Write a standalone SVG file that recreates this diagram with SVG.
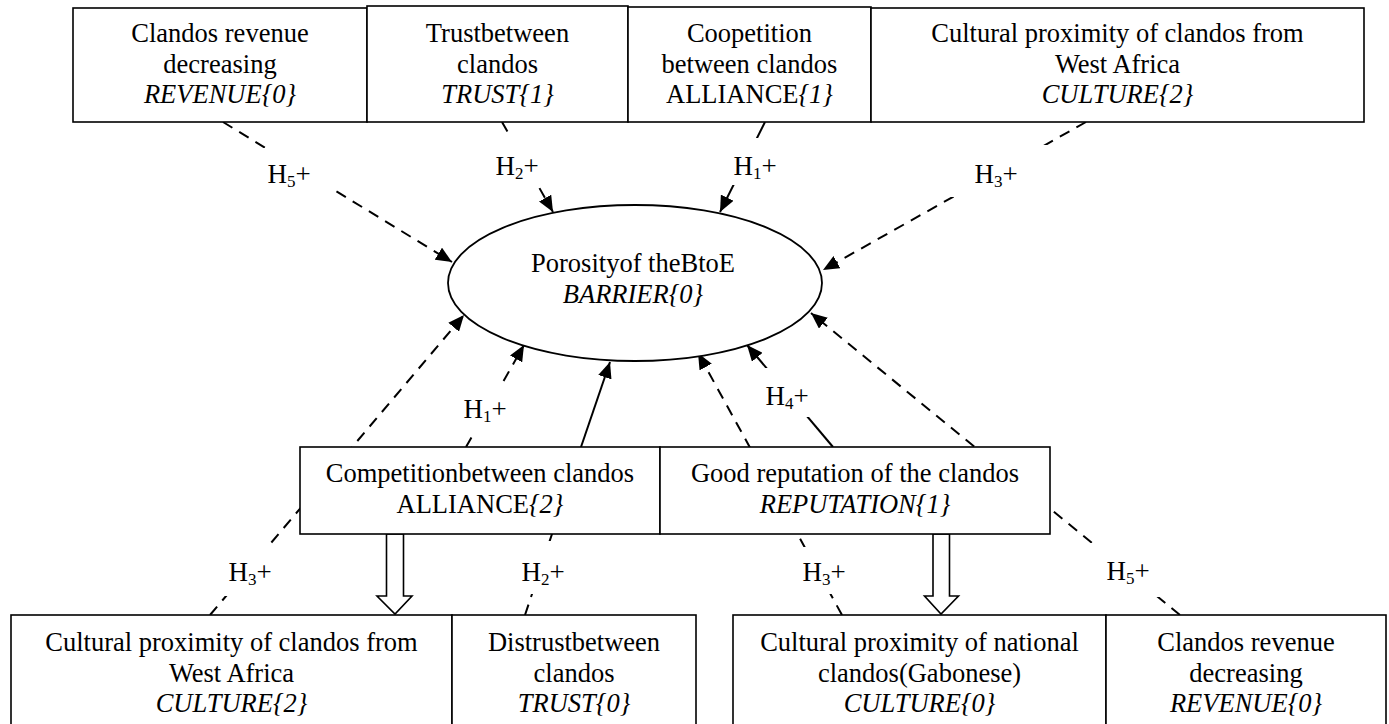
<svg xmlns="http://www.w3.org/2000/svg" width="1389" height="724" viewBox="0 0 1389 724">
<style>
  .box { fill: #fff; stroke: #000; stroke-width: 1.6; }
  .t { font-family: "Liberation Serif", "Times New Roman", serif; font-size: 26.5px; fill: #000; text-anchor: middle; }
  .i { font-style: italic; }
  .dash { stroke: #000; stroke-width: 2; stroke-dasharray: 11 8; fill: none; }
  .solid { stroke: #000; stroke-width: 2; fill: none; }
  .lblbg { fill: #fff; stroke: none; }
  .lbl { font-family: "Liberation Serif", "Times New Roman", serif; font-size: 27px; fill: #000; text-anchor: middle; }
  .sub { font-size: 17px; }
  .hollow { fill: #fff; stroke: #000; stroke-width: 1.6; }
</style>
<defs>
  <marker id="ah" markerUnits="userSpaceOnUse" markerWidth="17" markerHeight="14" refX="16" refY="7" orient="auto">
    <path d="M0,0 L16,7 L0,14 z" fill="#000"/>
  </marker>
</defs>
<rect width="1389" height="724" fill="#fff"/>

<g id="connectors">
  <!-- top row to ellipse -->
  <line class="dash" x1="223" y1="122" x2="452" y2="262" marker-end="url(#ah)"/>
  <line class="dash" x1="502" y1="122" x2="553" y2="212" marker-end="url(#ah)"/>
  <line class="solid" x1="765" y1="122" x2="720" y2="212" marker-end="url(#ah)"/>
  <line class="dash" x1="1086" y1="122" x2="823" y2="270" marker-end="url(#ah)"/>
  <!-- bottom/middle to ellipse -->
  <line class="dash" x1="210" y1="615" x2="464" y2="315" marker-end="url(#ah)"/>
  <line class="dash" x1="466" y1="447" x2="524" y2="345" marker-end="url(#ah)"/>
  <line class="dash" x1="525" y1="615" x2="581" y2="447"/>
  <line class="solid" x1="581" y1="447" x2="610" y2="362" marker-end="url(#ah)"/>
  <line class="dash" x1="842" y1="615" x2="698" y2="353" marker-end="url(#ah)"/>
  <line class="solid" x1="833" y1="447" x2="747" y2="345" marker-end="url(#ah)"/>
  <line class="dash" x1="1180" y1="615" x2="811" y2="313" marker-end="url(#ah)"/>
  <!-- hollow block arrows -->
  <path class="hollow" d="M386.5,534 V596 H377 L395,614 L412,596 H403.5 V534 Z"/>
  <path class="hollow" d="M933,534 V596 H924.5 L941,614 L958.5,596 H949.5 V534 Z"/>

  <g id="labels">
    <rect class="lblbg" x="255" y="148" width="78" height="50"/>
    <text class="lbl" x="289" y="183">H<tspan class="sub" dy="4">5</tspan><tspan dy="-4">+</tspan></text>
    <rect class="lblbg" x="490" y="138" width="55" height="49"/>
    <text class="lbl" x="517" y="175">H<tspan class="sub" dy="4">2</tspan><tspan dy="-4">+</tspan></text>
    <rect class="lblbg" x="725" y="138" width="60" height="47"/>
    <text class="lbl" x="755" y="175">H<tspan class="sub" dy="4">1</tspan><tspan dy="-4">+</tspan></text>
    <rect class="lblbg" x="950" y="145" width="100" height="52"/>
    <text class="lbl" x="996" y="183">H<tspan class="sub" dy="4">3</tspan><tspan dy="-4">+</tspan></text>
    <rect class="lblbg" x="455" y="383" width="60" height="48"/>
    <text class="lbl" x="485" y="418">H<tspan class="sub" dy="4">1</tspan><tspan dy="-4">+</tspan></text>
    <rect class="lblbg" x="760" y="368" width="55" height="49"/>
    <text class="lbl" x="787" y="405">H<tspan class="sub" dy="4">4</tspan><tspan dy="-4">+</tspan></text>
    <rect class="lblbg" x="220" y="545" width="65" height="51"/>
    <text class="lbl" x="250" y="581">H<tspan class="sub" dy="4">3</tspan><tspan dy="-4">+</tspan></text>
    <rect class="lblbg" x="520" y="541" width="50" height="53"/>
    <text class="lbl" x="543" y="581">H<tspan class="sub" dy="4">2</tspan><tspan dy="-4">+</tspan></text>
    <rect class="lblbg" x="800" y="547" width="50" height="47"/>
    <text class="lbl" x="824" y="581">H<tspan class="sub" dy="4">3</tspan><tspan dy="-4">+</tspan></text>
    <rect class="lblbg" x="1090" y="543" width="70" height="54"/>
    <text class="lbl" x="1128" y="580">H<tspan class="sub" dy="4">5</tspan><tspan dy="-4">+</tspan></text>
  </g>
</g>

<g id="node-barrier">
  <ellipse cx="635" cy="283" rx="187" ry="78" fill="#fff" stroke="#000" stroke-width="1.8"/>
  <text class="t" x="633" y="272">Porosityof theBtoE</text>
  <text class="t i" x="633" y="303">BARRIER{0}</text>
</g>

<g id="node-revenue-top">
  <rect class="box" x="73" y="8" width="294" height="114"/>
  <text class="t" x="220" y="42">Clandos revenue</text>
  <text class="t" x="220" y="73">decreasing</text>
  <text class="t i" x="220" y="103">REVENUE{0}</text>
</g>
<g id="node-trust-top">
  <rect class="box" x="367" y="6" width="261" height="116"/>
  <text class="t" x="497.5" y="42">Trustbetween</text>
  <text class="t" x="497.5" y="73">clandos</text>
  <text class="t i" x="497.5" y="103">TRUST{1}</text>
</g>
<g id="node-alliance-top">
  <rect class="box" x="628" y="7" width="243" height="115"/>
  <text class="t" x="749.5" y="42">Coopetition</text>
  <text class="t" x="749.5" y="73">between clandos</text>
  <text class="t" x="749.5" y="103">ALLIANCE<tspan class="i">{1}</tspan></text>
</g>
<g id="node-culture-top">
  <rect class="box" x="871" y="8" width="493" height="114"/>
  <text class="t" x="1117.5" y="42">Cultural proximity of clandos from</text>
  <text class="t" x="1117.5" y="73">West Africa</text>
  <text class="t i" x="1117.5" y="103">CULTURE{2}</text>
</g>

<g id="node-alliance-mid">
  <rect class="box" x="300" y="447" width="360" height="87"/>
  <text class="t" x="480" y="482">Competitionbetween clandos</text>
  <text class="t" x="480" y="513">ALLIANCE<tspan class="i">{2}</tspan></text>
</g>
<g id="node-reputation">
  <rect class="box" x="660" y="447" width="390" height="87"/>
  <text class="t" x="855" y="482">Good reputation of the clandos</text>
  <text class="t i" x="855" y="513">REPUTATION{1}</text>
</g>

<g id="node-culture-bottom">
  <rect class="box" x="11" y="615" width="441" height="115"/>
  <text class="t" x="231.5" y="651">Cultural proximity of clandos from</text>
  <text class="t" x="231.5" y="682">West Africa</text>
  <text class="t i" x="231.5" y="712">CULTURE{2}</text>
</g>
<g id="node-distrust">
  <rect class="box" x="452" y="615" width="244" height="115"/>
  <text class="t" x="574" y="651">Distrustbetween</text>
  <text class="t" x="574" y="682">clandos</text>
  <text class="t i" x="574" y="712">TRUST{0}</text>
</g>
<g id="node-culture-national">
  <rect class="box" x="733" y="615" width="373" height="115"/>
  <text class="t" x="919.5" y="651">Cultural proximity of national</text>
  <text class="t" x="919.5" y="682">clandos(Gabonese)</text>
  <text class="t i" x="919.5" y="712">CULTURE{0}</text>
</g>
<g id="node-revenue-bottom">
  <rect class="box" x="1106" y="615" width="280" height="115"/>
  <text class="t" x="1246" y="651">Clandos revenue</text>
  <text class="t" x="1246" y="682">decreasing</text>
  <text class="t i" x="1246" y="712">REVENUE{0}</text>
</g>
</svg>
